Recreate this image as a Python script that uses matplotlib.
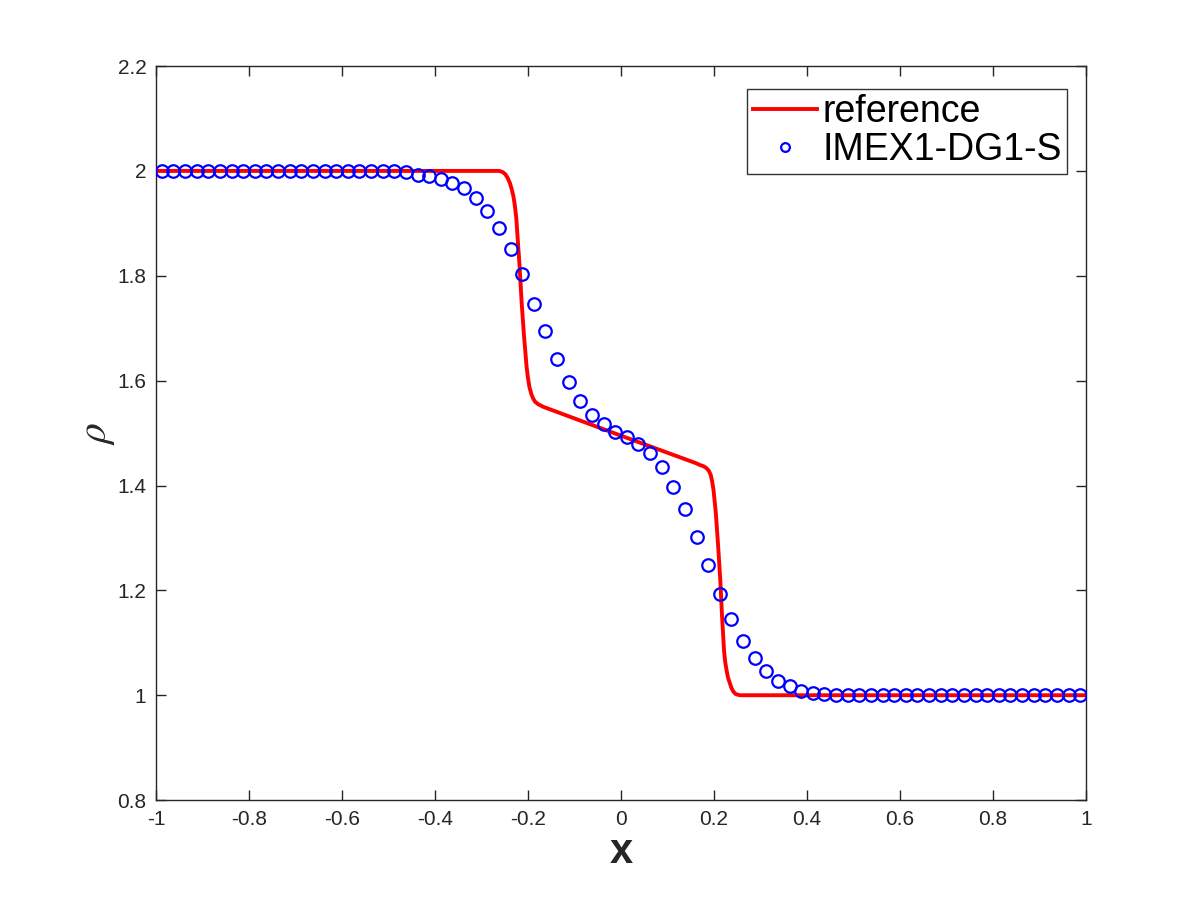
import matplotlib
matplotlib.use('Agg')
import matplotlib.pyplot as plt
import numpy as np

### data
# reference solution (fine grid)
ref_x = [-1.0, -0.262, -0.255, -0.249, -0.244, -0.239, -0.235, -0.231, -0.228,
         -0.225, -0.223, -0.218, -0.214, -0.209, -0.203, -0.200, -0.197, -0.193,
         -0.189, -0.185, -0.178, -0.167, 0.0, 0.160, 0.170, 0.177, 0.184, 0.189,
         0.193, 0.196, 0.199, 0.204, 0.209, 0.2135, 0.217, 0.2215, 0.224, 0.227,
         0.230, 0.234, 0.238, 0.2415, 0.247, 0.256, 1.0]
ref_rho = [2.0, 2.0, 1.998, 1.994, 1.987, 1.977, 1.965, 1.950, 1.932,
           1.908, 1.881, 1.817, 1.754, 1.690, 1.626, 1.605, 1.588, 1.575,
           1.566, 1.560, 1.555, 1.550, 1.495, 1.443, 1.439, 1.437, 1.433, 1.428,
           1.420, 1.408, 1.391, 1.347, 1.283, 1.220, 1.156, 1.086, 1.064, 1.048,
           1.034, 1.023, 1.013, 1.007, 1.002, 1.0, 1.0]

# IMEX1-DG1-S cell averages, 80 cells on [-1, 1]
num_x = np.linspace(-0.9875, 0.9875, 80)
num_rho = [2.0] * 20 + [
    1.999, 1.997, 1.993, 1.990, 1.984, 1.977, 1.967, 1.949, 1.924, 1.892,
    1.851, 1.803, 1.747, 1.694, 1.641, 1.597, 1.561, 1.534, 1.517, 1.503,
    1.492, 1.479, 1.462, 1.435, 1.398, 1.355, 1.302, 1.249, 1.194, 1.145,
    1.104, 1.071, 1.046, 1.028, 1.017, 1.009, 1.004, 1.002, 1.000,
] + [1.0] * 21

xticks = [-1, -0.8, -0.6, -0.4, -0.2, 0, 0.2, 0.4, 0.6, 0.8, 1]
xtick_labels = ['-1', '-0.8', '-0.6', '-0.4', '-0.2', '0', '0.2', '0.4', '0.6', '0.8', '1']
yticks = [0.8, 1, 1.2, 1.4, 1.6, 1.8, 2, 2.2]
ytick_labels = ['0.8', '1', '1.2', '1.4', '1.6', '1.8', '2', '2.2']

### plot
plt.rcParams['font.family'] = ['Liberation Sans', 'DejaVu Sans']
plt.rcParams['mathtext.fontset'] = 'stix'
grey = (0.15, 0.15, 0.15)

fig = plt.figure(figsize=(12, 9), dpi=100)
ax = fig.add_axes([0.13, 0.111, 0.775, 0.8156])

ax.plot(ref_x, ref_rho, '-', color='red', lw=2.8, label='reference', zorder=2)
ax.plot(num_x, num_rho, 'o', mfc='none', mec='blue', ms=9, mew=1.6,
        label='IMEX1-DG1-S', zorder=3)

ax.set_xlim(-1, 1)
ax.set_ylim(0.8, 2.2)
ax.set_xticks(xticks)
ax.set_xticklabels(xtick_labels)
ax.set_yticks(yticks)
ax.set_yticklabels(ytick_labels)
ax.tick_params(direction='in', top=True, right=True, length=7, width=1,
               labelsize=15, colors=grey, pad=7)
for s in ax.spines.values():
    s.set_color(grey)
    s.set_linewidth(1)

ax.set_xlabel('x', fontsize=30, fontweight='bold', color=grey, labelpad=2)
ax.set_ylabel(r'$\rho$', fontsize=30, color=grey, labelpad=0, rotation=90)

leg = ax.legend(loc='upper right', bbox_to_anchor=(0.98, 0.969),
                borderaxespad=0, fontsize=27, fancybox=False, frameon=True,
                handlelength=1.7, handletextpad=0.15, borderpad=0.15,
                labelspacing=0.05, markerscale=0.7)
leg.get_frame().set_edgecolor('black')
leg.get_frame().set_linewidth(1)

plt.savefig('out.png', dpi=100)
